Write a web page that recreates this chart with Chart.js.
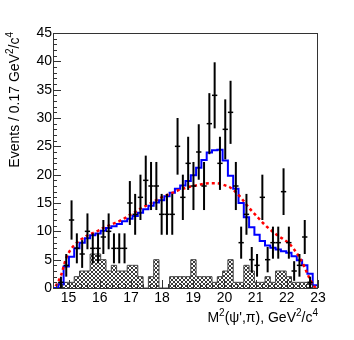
<!DOCTYPE html>
<html><head><meta charset="utf-8">
<script src="https://cdn.jsdelivr.net/npm/chart.js@4/dist/chart.umd.min.js"></script>
<style>html,body{margin:0;padding:0;background:#fff;}#wrap{width:354px;height:340px;}</style>
</head><body><div id="wrap"><canvas id="c" width="354" height="340"></canvas></div>
<script>
// ---- data ----
const xMin = 14.5, xMax = 23, binWidth = 0.17;
const xTickLabels = [15, 16, 17, 18, 19, 20, 21, 22, 23];
const yTickLabels = [0, 5, 10, 15, 20, 25, 30, 35, 40, 45];
// observed events per bin (50 bins)
const dataCounts = [0, 1, 4, 12, 7, 6, 10, 7, 7, 9,
  10, 7, 7, 7, 15, 13, 16, 19, 18, 18,
  13, 13, 13, 25, 16, 22, 18, 24, 18, 29,
  34, 22, 28, 31, 18, 8, 13, 5, 4, 16,
  5, 8, 8, 17, 8, 3, 4, 9, 1, 0];
// fit with signal (blue histogram)
const fitHist = [0, 0.6, 3.8, 5.5, 7.0, 8.0, 8.8, 9.3, 9.6, 10.1,
  10.6, 10.9, 11.3, 11.8, 12.2, 12.7, 13.3, 13.9, 14.5, 15.1,
  15.5, 16.2, 16.8, 17.5, 18.1, 18.9, 19.9, 21.2, 22.6, 23.9,
  24.3, 24.4, 22.5, 19.8, 17.5, 15.0, 12.5, 10.7, 9.4, 8.3,
  7.5, 7.1, 6.8, 6.5, 6.2, 5.6, 4.9, 4.0, 2.5, 0.5];
// no-signal fit (red dashed)
const fitCurve = [0.3, 2.2, 5.3, 7.0, 8.0, 8.7, 9.3, 9.7, 10.1, 10.6,
  11.0, 11.4, 11.8, 12.3, 12.9, 13.4, 14.0, 14.5, 15.0, 15.5,
  16.0, 16.4, 16.8, 17.2, 17.5, 17.8, 18.0, 18.2, 18.4, 18.5,
  18.5, 18.4, 18.1, 17.7, 16.9, 15.9, 14.7, 13.6, 12.6, 11.6,
  10.7, 9.9, 9.2, 8.6, 7.9, 6.8, 5.4, 3.6, 1.5, 0];
// background (hatched histogram)
const bkgHist = [0, 1, 1, 1, 2, 3, 3, 6, 6, 5,
  3, 4, 3, 3, 4, 4, 2, 0, 2, 5,
  0, 0, 2, 2, 2, 2, 5, 2, 2, 2,
  1, 2, 3, 5, 1, 1, 4, 3, 1, 1,
  2, 1, 3, 3, 2, 1, 1, 1, 1, 0];

// ---- helpers ----
const nBins = dataCounts.length;
const edge = i => xMin + binWidth * i;
const center = i => xMin + binWidth * (i + 0.5);
function stepPoints(vals) {
  const pts = [{x: edge(0), y: 0}];
  vals.forEach((v, i) => pts.push({x: edge(i), y: v}));
  pts.push({x: edge(vals.length), y: vals[vals.length - 1]});
  pts.push({x: edge(vals.length), y: 0});
  return pts;
}
const FONT = '"Liberation Sans", Arial, Helvetica, sans-serif';

// crisp cross-hatch tile
const pc = document.createElement('canvas');
pc.width = 4; pc.height = 4;
const pctx = pc.getContext('2d');
pctx.fillStyle = '#fff'; pctx.fillRect(0, 0, 4, 4);
pctx.fillStyle = '#3a3a3a';
[[0,0],[1,1],[2,2],[3,3],[3,0],[2,1],[1,2],[0,3]].forEach(([x, y]) => pctx.fillRect(x, y, 1, 1));
const ctx = document.getElementById('c').getContext('2d');
const hatch = ctx.createPattern(pc, 'repeat');

function drawRich(c, parts, x, y, align, size) {
  const sup = Math.round(size * 0.68);
  let w = 0;
  parts.forEach(p => { c.font = (p.sup ? sup : size) + 'px ' + FONT; w += c.measureText(p.t).width; });
  let cx = align === 'right' ? x - w : x;
  c.textAlign = 'left'; c.textBaseline = 'alphabetic';
  parts.forEach(p => {
    c.font = (p.sup ? sup : size) + 'px ' + FONT;
    c.fillText(p.t, cx, p.sup ? y - size * 0.42 : y);
    cx += c.measureText(p.t).width;
  });
}

const decor = {
  id: 'decor',
  afterDatasetsDraw(chart) {
    const c = chart.ctx, xs = chart.scales.x, ys = chart.scales.y, a = chart.chartArea;
    c.save();
    // error bars
    c.strokeStyle = '#000';
    for (let i = 0; i < nBins; i++) {
      const n = dataCounts[i];
      if (!n) continue;
      const e = Math.sqrt(n);
      const px = xs.getPixelForValue(center(i));
      c.lineWidth = 2;
      c.beginPath();
      c.moveTo(px, ys.getPixelForValue(Math.max(0, n - e)));
      c.lineTo(px, ys.getPixelForValue(n + e));
      c.stroke();
      c.lineWidth = 1.5;
      const py = ys.getPixelForValue(n);
      c.beginPath();
      c.moveTo(xs.getPixelForValue(edge(i)), py);
      c.lineTo(xs.getPixelForValue(edge(i + 1)), py);
      c.stroke();
    }
    // frame
    c.strokeStyle = '#333'; c.lineWidth = 1;
    c.strokeRect(Math.round(a.left) + 0.5, Math.round(a.top) + 0.5, Math.round(a.right - a.left) - 1, Math.round(a.bottom - a.top));
    // inward ticks
    c.beginPath();
    for (let v = 0; v <= 45; v++) {
      const y = Math.round(ys.getPixelForValue(v)) + 0.5;
      const len = v % 5 === 0 ? 8 : 4;
      c.moveTo(a.left, y); c.lineTo(a.left + len, y);
    }
    for (let k = 73; k <= 115; k++) {
      const v = k * 0.2;
      if (v < xMin - 1e-9) continue;
      const x = Math.round(xs.getPixelForValue(v)) + 0.5;
      const len = k % 5 === 0 ? 8 : 4;
      c.moveTo(x, a.bottom); c.lineTo(x, a.bottom - len);
    }
    c.stroke();
    // axis titles
    c.fillStyle = '#000';
    drawRich(c, [{t: 'M'}, {t: '2', sup: true}, {t: '(\u03C8\',\u03C0), GeV'}, {t: '2', sup: true}, {t: '/c'}, {t: '4', sup: true}],
      a.right, 322, 'right', 14);
    c.translate(18.5, a.top - 1);
    c.rotate(-Math.PI / 2);
    drawRich(c, [{t: 'Events / 0.17 GeV'}, {t: '2', sup: true}, {t: '/c'}, {t: '4', sup: true}], 0, 0, 'right', 14);
    c.restore();
  }
};

new Chart(ctx, {
  type: 'line',
  data: {
    datasets: [
      {label: 'data', data: dataCounts.map((v, i) => ({x: center(i), y: v})), showLine: false, pointRadius: 0, borderWidth: 0},
      {label: 'no signal', data: fitCurve.map((v, i) => ({x: center(i), y: v})), borderColor: '#ff0000', borderWidth: 2.5,
        borderDash: [3, 3], pointRadius: 0, fill: false, cubicInterpolationMode: 'monotone'},
      {label: 'fit', data: stepPoints(fitHist), borderColor: '#0000ff', borderWidth: 2, pointRadius: 0, stepped: true, fill: false},
      {label: 'background', data: stepPoints(bkgHist), borderColor: '#444', borderWidth: 1, pointRadius: 0, stepped: true,
        fill: 'origin', backgroundColor: hatch}
    ]
  },
  options: {
    responsive: false, animation: false, devicePixelRatio: 1,
    layout: {padding: {left: 0, top: 33, right: 36, bottom: 0}},
    plugins: {legend: {display: false}, tooltip: {enabled: false}, title: {display: false}},
    scales: {
      x: {
        type: 'linear', min: xMin, max: xMax,
        afterBuildTicks: s => { s.ticks = xTickLabels.map(v => ({value: v})); },
        afterFit: s => { s.height = 52; },
        grid: {display: false, drawTicks: false}, border: {display: false},
        ticks: {padding: 2, color: '#000', font: {family: FONT, size: 14}, maxRotation: 0, autoSkip: false}
      },
      y: {
        min: 0, max: 45,
        afterBuildTicks: s => { s.ticks = yTickLabels.map(v => ({value: v})); },
        afterFit: s => { s.width = 53; },
        grid: {display: false, drawTicks: false}, border: {display: false},
        ticks: {padding: 1, color: '#000', font: {family: FONT, size: 14}, autoSkip: false}
      }
    }
  },
  plugins: [decor]
});
</script></body></html>
